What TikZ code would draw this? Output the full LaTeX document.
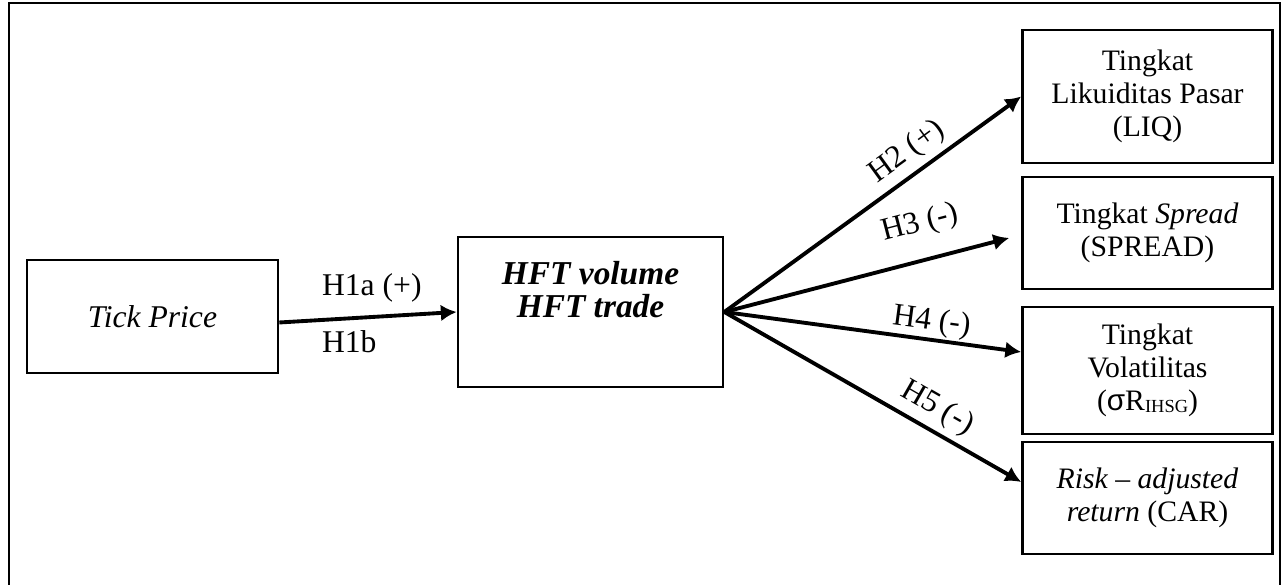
\documentclass[tikz,border=0pt]{standalone}
\usepackage{fontspec}
\setmainfont{Liberation Serif}
\newfontfamily\sigmafont{Liberation Sans}
\usepackage{tikz}
\usetikzlibrary{arrows.meta}
\usetikzlibrary{positioning}
\tikzset{
    varbox/.style={draw=black, line width=1.5pt, minimum width=5cm, align=center, inner sep=2pt, font=\fontsize{16.9}{18.6}\selectfont},
    hyp/.style={line width=2.2pt, -{Latex[length=9pt,width=9.5pt]}},
    hyplabel/.style={font=\fontsize{18}{20}\selectfont}}

\begin{document}
\begin{tikzpicture}

            \useasboundingbox (0,0) rectangle (25.66,11.7);
            \draw[line width=1.6pt] (0.18,0) -- (0.18,11.64) -- (25.6,11.64) -- (25.6,0);

            \node[varbox, minimum width=5.02cm, minimum height=2.26cm, font=\fontsize{18}{20}\selectfont\itshape] (tick) at (3.05,5.37) {Tick Price};
            \node[varbox, minimum width=5.3cm, minimum height=3cm, text depth=0.9cm, font=\fontsize{19}{18.8}\selectfont\bfseries\itshape] (hft) at (11.81,5.46) {HFT volume\\HFT trade};

            \node[varbox, minimum height=2.66cm] (liq) at (22.95,9.77) {Tingkat\\Likuiditas Pasar\\(LIQ)};
            \node[varbox, minimum height=2.24cm] (spread) at (22.95,7.04) {Tingkat \textit{Spread}\\(SPREAD)};
            \node[varbox, minimum height=2.54cm] (vol) at (22.95,4.29) {Tingkat\\Volatilitas\\({\sigmafont σ}R\raisebox{-1pt}{\fontsize{10.5}{10.5}\selectfont IHSG})};
            \node[varbox, minimum height=2.24cm] (car) at (22.95,1.74) {\textit{Risk -- adjusted}\\\textit{return} (CAR)};

            \draw[hyp] ([yshift=-0.12cm]tick.east) -- (hft.west)
                node[pos=0.23, anchor=south west, inner sep=0pt, yshift=0.32cm, hyplabel] {H1a (+)}
                node[pos=0.23, anchor=north west, inner sep=0pt, yshift=-0.18cm, hyplabel] {H1b};
            \draw[hyp] (hft.east) -- (liq.west) node[pos=0.66, sloped, above, hyplabel] {H2 (+)};
            \draw[hyp] (hft.east) -- ([xshift=-0.24cm, yshift=-0.1cm]spread.west) node[pos=0.72, sloped, above=0.28cm, hyplabel] {H3 (-)};
            \draw[hyp] (hft.east) -- ([yshift=0.37cm]vol.west) node[pos=0.69, sloped, above, inner sep=1pt, hyplabel] {H4 (-)};
            \draw[hyp] (hft.east) -- ([yshift=0.32cm]car.west) node[pos=0.68, sloped, above, hyplabel] {H5 (-)};

        \end{tikzpicture}
\end{document}
